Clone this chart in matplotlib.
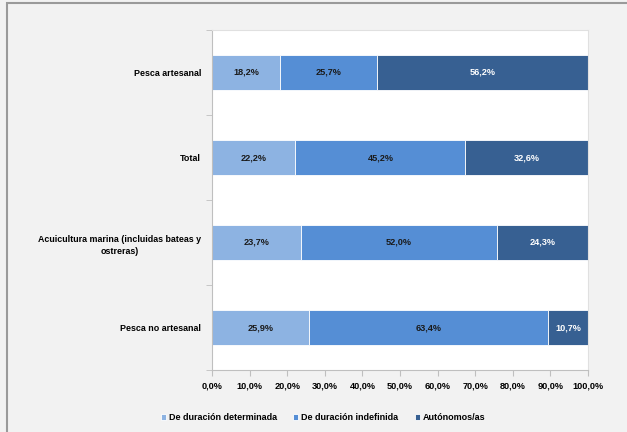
import matplotlib.pyplot as plt
from matplotlib.patches import Rectangle
import numpy as np

plt.rcParams['font.family'] = ['Liberation Sans', 'DejaVu Sans']

categorias = ["Pesca artesanal", "Total",
              "Acuicultura marina (incluidas bateas y\nostreras)",
              "Pesca no artesanal"]
determinada = [18.2, 22.2, 23.7, 25.9]
indefinida = [25.7, 45.2, 52.0, 63.4]
autonomos = [56.2, 32.6, 24.3, 10.7]
series = ["De duración determinada", "De duración indefinida", "Autónomos/as"]
colores = ["#8db3e2", "#558ed5", "#376092"]
col_texto = ["#1a1a1a", "#1a1a1a", "white"]
xticks = np.arange(0, 101, 10)

fig = plt.figure(figsize=(6.27, 4.32), dpi=100, facecolor="#f2f2f2")
# marco de la captura
fig.patches.append(Rectangle((7/627, -0.01), 1.1, 1 - 3/432 + 0.01, transform=fig.transFigure,
                             facecolor="none", edgecolor="#9a9a9a", linewidth=1.5))

ax = fig.add_axes([212/627, 1 - 370/432, 376/627, 340/432])
ax.set_facecolor("white")

y = np.arange(len(categorias))[::-1]
izq = np.zeros(len(categorias))
for nombre, vals, c, tc in zip(series, [determinada, indefinida, autonomos], colores, col_texto):
    vals = np.array(vals)
    bars = ax.barh(y, vals, left=izq, height=0.41, color=c, edgecolor="white",
                   linewidth=0.6, label=nombre)
    for b, v in zip(bars, vals):
        ax.text(b.get_x() + b.get_width() / 2, b.get_y() + b.get_height() / 2,
                f"{v:.1f}%".replace(".", ","), ha="center", va="center",
                fontsize=6.6, fontweight="bold", color=tc)
    izq += vals

ax.set_xlim(0, 100)
ax.set_ylim(-0.5, len(categorias) - 0.5)
ax.set_xticks(xticks)
ax.set_xticklabels([f"{t:.1f}%".replace(".", ",") for t in xticks],
                   fontsize=6.6, fontweight="bold")
ax.set_yticks(y)
ax.set_yticklabels(categorias, fontsize=6.4, fontweight="bold", multialignment="center",
                   linespacing=1.5)
ax.set_yticks(np.arange(-0.5, len(categorias), 1), minor=True)
ax.tick_params(axis="y", which="major", length=0, pad=8)
ax.tick_params(axis="y", which="minor", length=4, color="#bfbfbf")
ax.tick_params(axis="x", length=4, color="#bfbfbf", pad=4)
for s in ["left", "bottom"]:
    ax.spines[s].set_color("#bfbfbf")
for s in ["top", "right"]:
    ax.spines[s].set_color("#e0e0e0")

fig.legend(loc="center", bbox_to_anchor=(0.515, 1 - 418/432), ncol=3, frameon=False,
           prop={"weight": "bold", "size": 6.5}, handlelength=0.6, handleheight=0.6,
           handletextpad=0.3, columnspacing=1.8)

fig.savefig("out.png", dpi=100, facecolor=fig.get_facecolor())
